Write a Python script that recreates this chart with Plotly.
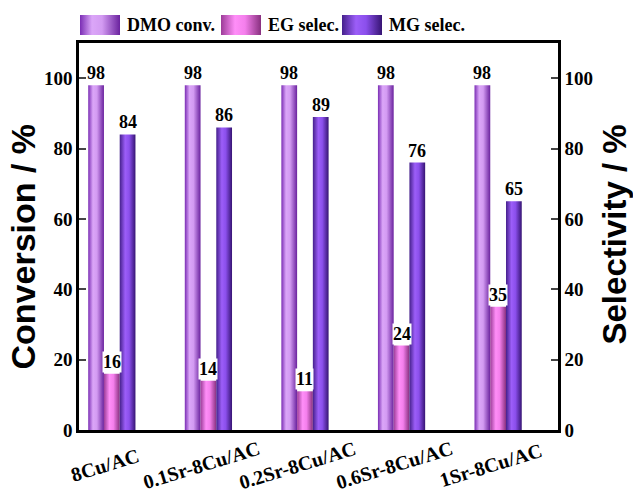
import plotly.graph_objects as go

# Catalyst samples and measured values (%)
catalysts = ["8Cu/AC", "0.1Sr-8Cu/AC", "0.2Sr-8Cu/AC", "0.6Sr-8Cu/AC", "1Sr-8Cu/AC"]
dmo_conv = [98, 98, 98, 98, 98]
eg_selec = [16, 14, 11, 24, 35]
mg_selec = [84, 86, 89, 76, 65]
y_ticks = [0, 20, 40, 60, 80, 100]

series_names = ["DMO conv.", "EG selec.", "MG selec."]

# cylinder-like shading for each series (dark edge -> highlight -> dark edge)
shades = {
    "DMO conv.": [[0, "#7a2db4"], [0.3, "#dba6f8"], [0.55, "#d39bf2"], [1, "#6a229e"]],
    "EG selec.": [[0, "#9c3c98"], [0.35, "#ff8ef8"], [0.6, "#f47fec"], [1, "#88307f"]],
    "MG selec.": [[0, "#45208c"], [0.35, "#9c5ef8"], [0.6, "#8b4fec"], [1, "#361473"]],
}

BAR_W = 0.163
SERIF = "Liberation Serif"
SANS = "Liberation Sans"

fig = go.Figure()

# Plot area occupies the lower part; a thin strip above holds the legend
PLOT_TOP = 0.9214

series_vals = [dmo_conv, eg_selec, mg_selec]
series_axis = ["y", "y2", "y2"]
for k, (name, vals) in enumerate(zip(series_names, series_vals)):
    for i, v in enumerate(vals):
        xc = i + (k - 1) * BAR_W
        x0, x1 = xc - BAR_W / 2, xc + BAR_W / 2
        fig.add_trace(go.Scatter(
            x=[x0, x0, x1, x1, x0], y=[0, v, v, 0, 0],
            mode="lines", fill="toself", line=dict(width=0),
            fillgradient=dict(type="horizontal", colorscale=shades[name]),
            yaxis=series_axis[k], showlegend=False, hoverinfo="skip",
        ))
        fig.add_annotation(
            x=xc, y=v, xref="x", yref="y", yanchor="bottom", yshift=1,
            text=f"<b>{v}</b>", showarrow=False,
            bgcolor="white" if k == 1 else "rgba(0,0,0,0)",
            borderpad=0,
            font=dict(family=SERIF, size=18, color="black"),
        )

# Category labels, tilted and set under each group
for i, c in enumerate(catalysts):
    fig.add_annotation(
        x=i, y=0, xref="x", yref="paper", xanchor="center", yanchor="middle",
        xshift=-7, yshift=-35, text=f"<b>{c}</b>", textangle=-17, showarrow=False,
        font=dict(family=SERIF, size=20, color="black"),
    )

# Axis titles
fig.add_annotation(
    x=0, y=0.5 * PLOT_TOP, xref="paper", yref="paper", xanchor="center", yanchor="middle",
    xshift=-56, yshift=-10, text="<b>Conversion / %</b>", textangle=-90, showarrow=False,
    font=dict(family=SANS, size=34, color="black"),
)
fig.add_annotation(
    x=1, y=0.5 * PLOT_TOP, xref="paper", yref="paper", xanchor="center", yanchor="middle",
    xshift=57, yshift=2, text="<b>Selectivity / %</b>", textangle=-90, showarrow=False,
    font=dict(family=SANS, size=33, color="black"),
)

# Legend strip (own pixel-like axes above the plot area)
legend_x = [80, 221, 342]
SW_W, SW_H = 40, 20
for name, lx in zip(series_names, legend_x):
    fig.add_trace(go.Scatter(
        x=[lx, lx, lx + SW_W, lx + SW_W, lx], y=[15, 15 + SW_H, 15 + SW_H, 15, 15],
        mode="lines", fill="toself", line=dict(width=0),
        fillgradient=dict(type="horizontal", colorscale=shades[name]),
        xaxis="x3", yaxis="y3", showlegend=False, hoverinfo="skip",
    ))
    fig.add_annotation(
        x=lx + SW_W + 5, y=25, xref="x3", yref="y3", xanchor="left", yanchor="middle",
        text=f"<b>{name}</b>", showarrow=False,
        font=dict(family=SERIF, size=18, color="black"),
    )

axis_common = dict(
    range=[0, 110], tickvals=y_ticks, ticks="inside", ticklen=7, tickwidth=2,
    showline=True, linewidth=2.5, linecolor="black", showgrid=False, zeroline=False,
    tickfont=dict(family=SERIF, size=19, color="black", weight="bold"),
    domain=[0, PLOT_TOP], fixedrange=True,
)

fig.update_layout(
    width=633, height=494,
    margin=dict(l=79, r=75, t=10, b=64),
    paper_bgcolor="white", plot_bgcolor="white",
    showlegend=False,
    xaxis=dict(
        range=[-0.34, 4.62], showticklabels=False, ticks="",
        showline=True, linewidth=2.5, linecolor="black", mirror=True,
        showgrid=False, zeroline=False, fixedrange=True,
    ),
    yaxis=dict(**axis_common),
    yaxis2=dict(**axis_common, overlaying="y", side="right"),
    xaxis3=dict(domain=[0, 1], range=[79, 558], anchor="y3", visible=False, fixedrange=True),
    yaxis3=dict(domain=[PLOT_TOP, 1], range=[43, 10], anchor="x3", visible=False, fixedrange=True),
)

fig.write_html("out.html")
